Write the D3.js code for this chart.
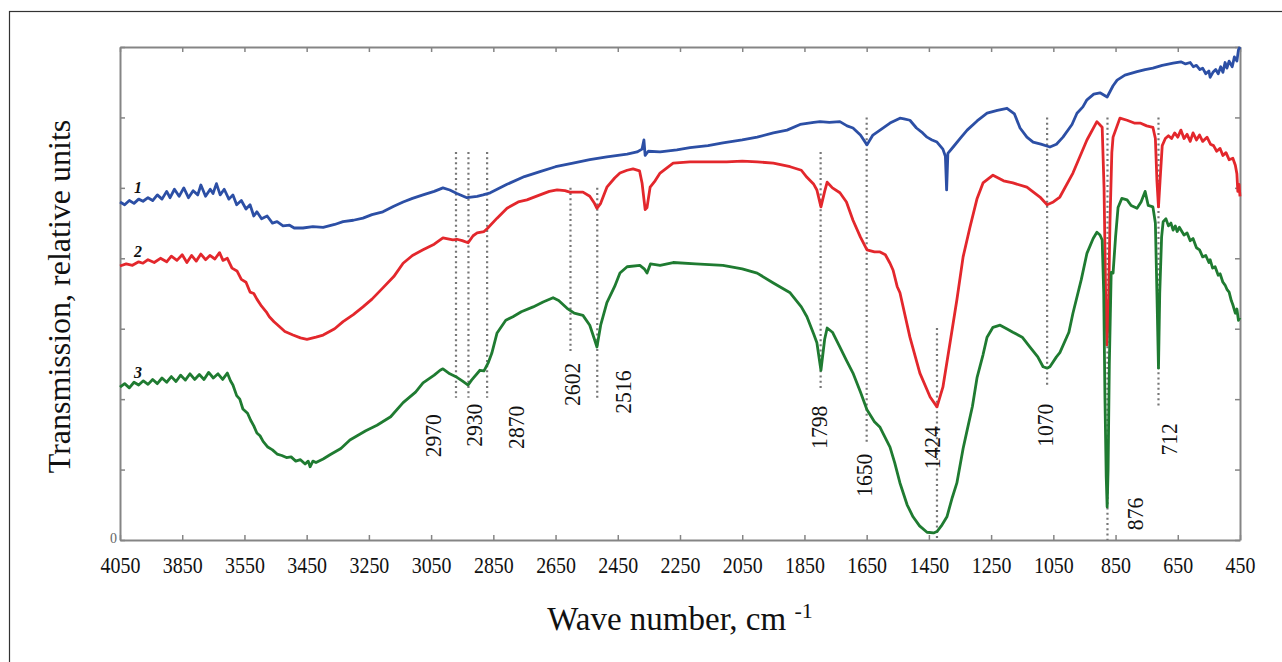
<!DOCTYPE html>
<html>
<head>
<meta charset="utf-8">
<script src="https://cdn.jsdelivr.net/npm/d3@7"></script>
<style>
  body { margin: 0; background: #fff; }
  svg { display: block; }
</style>
</head>
<body>
<script>
// wave number (cm-1) and transmission (relative units)
var spectrum1 = [[4050,4.80],[4035,4.76],[4020,4.82],[4005,4.78],[3990,4.84],[3976,4.81],[3960,4.86],[3945,4.82],[3930,4.90],[3915,4.84],[3900,4.95],[3889,4.86],[3875,4.98],[3860,4.88],[3845,5.00],[3830,4.86],[3815,4.96],[3800,4.90],[3790,5.04],[3775,4.88],[3760,4.98],[3751,4.92],[3740,5.06],[3728,4.90],[3715,4.98],[3700,4.84],[3687,4.90],[3675,4.76],[3660,4.82],[3645,4.70],[3632,4.76],[3620,4.60],[3610,4.66],[3595,4.56],[3577,4.60],[3560,4.50],[3545,4.52],[3526,4.46],[3505,4.47],[3490,4.43],[3462,4.43],[3430,4.45],[3397,4.44],[3360,4.48],[3333,4.52],[3300,4.54],[3269,4.57],[3240,4.62],[3205,4.66],[3170,4.74],[3140,4.80],[3110,4.85],[3076,4.90],[3040,4.95],[3012,5.00],[2990,4.97],[2967,4.92],[2935,4.86],[2902,4.88],[2883,4.90],[2860,4.93],[2806,5.05],[2750,5.16],[2700,5.23],[2650,5.30],[2594,5.35],[2540,5.40],[2485,5.44],[2420,5.48],[2388,5.51],[2372,5.55],[2366,5.68],[2362,5.46],[2352,5.52],[2314,5.51],[2260,5.54],[2218,5.57],[2160,5.60],[2112,5.64],[2050,5.68],[2002,5.72],[1950,5.78],[1906,5.82],[1864,5.90],[1820,5.93],[1800,5.94],[1770,5.93],[1736,5.94],[1713,5.88],[1694,5.85],[1670,5.75],[1649,5.61],[1630,5.75],[1607,5.82],[1575,5.92],[1543,5.99],[1530,5.98],[1511,5.96],[1490,5.85],[1470,5.78],[1456,5.72],[1440,5.68],[1424,5.65],[1405,5.55],[1397,5.45],[1393,4.97],[1389,5.49],[1372,5.58],[1350,5.70],[1327,5.82],[1295,5.95],[1263,6.06],[1230,6.10],[1199,6.13],[1175,6.05],[1157,5.85],[1135,5.72],[1115,5.65],[1090,5.62],[1061,5.58],[1040,5.62],[1019,5.72],[990,5.90],[974,6.06],[955,6.15],[942,6.25],[920,6.33],[900,6.35],[877,6.29],[858,6.45],[845,6.53],[820,6.60],[781,6.65],[755,6.68],[730,6.70],[700,6.74],[665,6.77],[640,6.79],[625,6.76],[610,6.78],[600,6.72],[590,6.74],[579,6.68],[570,6.70],[560,6.62],[550,6.66],[546,6.57],[537,6.64],[528,6.68],[520,6.62],[512,6.72],[505,6.64],[498,6.78],[492,6.70],[485,6.80],[475,6.72],[468,6.86],[460,6.80],[455,6.96],[450,7.0]];

var spectrum2 = [[4050,3.89],[4030,3.92],[4010,3.90],[3990,3.95],[3976,3.93],[3960,3.98],[3940,3.94],[3920,4.00],[3900,3.95],[3885,4.03],[3867,3.97],[3850,4.05],[3835,3.94],[3820,4.04],[3805,3.96],[3790,4.06],[3775,3.98],[3761,4.04],[3745,3.99],[3730,4.08],[3719,3.97],[3705,4.00],[3690,3.86],[3674,3.82],[3660,3.70],[3645,3.66],[3632,3.52],[3620,3.50],[3610,3.42],[3595,3.32],[3580,3.24],[3570,3.17],[3555,3.10],[3545,3.06],[3520,2.96],[3494,2.91],[3470,2.87],[3449,2.85],[3420,2.88],[3397,2.91],[3360,3.00],[3333,3.10],[3300,3.20],[3269,3.31],[3240,3.42],[3205,3.58],[3170,3.74],[3140,3.93],[3110,4.04],[3076,4.12],[3040,4.20],[3012,4.29],[2980,4.26],[2967,4.27],[2950,4.25],[2931,4.22],[2915,4.32],[2902,4.36],[2880,4.38],[2870,4.42],[2838,4.57],[2806,4.71],[2770,4.80],[2742,4.83],[2700,4.90],[2670,4.95],[2645,4.97],[2620,4.96],[2604,4.94],[2562,4.94],[2540,4.88],[2525,4.78],[2517,4.71],[2505,4.78],[2485,5.01],[2460,5.14],[2443,5.21],[2420,5.25],[2401,5.27],[2380,5.24],[2372,5.07],[2362,4.69],[2356,4.72],[2346,5.01],[2330,5.10],[2314,5.21],[2272,5.35],[2218,5.37],[2163,5.37],[2100,5.37],[2050,5.38],[2002,5.37],[1950,5.35],[1896,5.30],[1860,5.25],[1842,5.15],[1820,5.05],[1810,4.97],[1797,4.73],[1785,4.95],[1777,5.08],[1760,5.00],[1736,4.93],[1715,4.80],[1694,4.54],[1670,4.30],[1649,4.12],[1625,4.09],[1607,4.09],[1590,4.05],[1575,3.93],[1565,3.83],[1552,3.60],[1543,3.51],[1511,2.88],[1479,2.37],[1446,2.03],[1424,1.89],[1405,2.17],[1382,2.80],[1360,3.41],[1340,4.02],[1318,4.44],[1295,4.85],[1276,5.07],[1244,5.18],[1210,5.10],[1180,5.07],[1135,5.01],[1093,4.87],[1070,4.76],[1050,4.80],[1029,4.87],[987,5.21],[942,5.68],[910,5.94],[893,5.86],[887,5.00],[882,3.50],[878,2.77],[873,3.20],[868,4.50],[862,5.50],[858,5.72],[836,5.99],[813,5.96],[790,5.92],[771,5.92],[750,5.88],[730,5.86],[722,5.70],[717,5.10],[712,4.73],[707,5.10],[700,5.60],[690,5.70],[680,5.74],[670,5.70],[660,5.78],[650,5.72],[640,5.82],[630,5.70],[620,5.76],[610,5.66],[601,5.78],[590,5.68],[580,5.75],[570,5.66],[556,5.72],[545,5.62],[535,5.60],[525,5.52],[514,5.56],[505,5.46],[495,5.50],[485,5.40],[473,5.42],[465,5.32],[460,5.20],[457,4.95],[453,5.05],[450,4.88]];

var spectrum3 = [[4050,2.17],[4035,2.22],[4020,2.16],[4005,2.24],[3990,2.20],[3975,2.26],[3960,2.21],[3945,2.28],[3930,2.22],[3915,2.30],[3900,2.24],[3885,2.32],[3870,2.25],[3855,2.34],[3840,2.27],[3825,2.36],[3810,2.28],[3795,2.35],[3780,2.28],[3765,2.38],[3750,2.30],[3735,2.36],[3720,2.28],[3705,2.37],[3695,2.26],[3687,2.20],[3675,2.05],[3665,2.00],[3655,1.86],[3640,1.80],[3630,1.70],[3620,1.62],[3610,1.52],[3600,1.48],[3590,1.40],[3575,1.32],[3560,1.28],[3545,1.22],[3530,1.20],[3515,1.17],[3500,1.18],[3485,1.12],[3470,1.14],[3455,1.08],[3445,1.12],[3439,1.04],[3430,1.12],[3420,1.10],[3397,1.15],[3375,1.21],[3340,1.30],[3311,1.42],[3260,1.55],[3224,1.63],[3180,1.75],[3140,1.95],[3100,2.10],[3076,2.23],[3040,2.34],[3021,2.41],[3012,2.43],[2990,2.36],[2967,2.31],[2950,2.26],[2931,2.20],[2920,2.27],[2893,2.41],[2880,2.40],[2867,2.51],[2855,2.65],[2838,2.94],[2810,3.12],[2787,3.17],[2760,3.24],[2722,3.31],[2690,3.38],[2658,3.44],[2640,3.40],[2613,3.29],[2590,3.22],[2562,3.19],[2540,3.05],[2525,2.85],[2517,2.74],[2505,3.05],[2485,3.37],[2460,3.60],[2443,3.79],[2420,3.88],[2379,3.90],[2365,3.85],[2356,3.79],[2345,3.92],[2314,3.90],[2272,3.94],[2200,3.92],[2112,3.90],[2050,3.85],[2002,3.79],[1950,3.65],[1896,3.51],[1860,3.31],[1842,3.17],[1820,2.92],[1810,2.80],[1797,2.41],[1785,2.85],[1777,3.01],[1760,2.95],[1736,2.74],[1715,2.55],[1694,2.37],[1670,2.10],[1649,1.85],[1625,1.68],[1607,1.60],[1590,1.45],[1575,1.32],[1560,1.10],[1543,0.81],[1520,0.50],[1501,0.33],[1480,0.20],[1456,0.11],[1435,0.10],[1424,0.12],[1410,0.20],[1392,0.33],[1375,0.60],[1360,0.81],[1340,1.30],[1327,1.56],[1310,1.90],[1295,2.31],[1276,2.63],[1263,2.88],[1244,3.02],[1221,3.05],[1200,3.00],[1180,2.95],[1150,2.88],[1125,2.74],[1100,2.60],[1083,2.46],[1070,2.44],[1061,2.46],[1040,2.60],[1029,2.66],[1000,2.95],[987,3.22],[960,3.70],[942,4.07],[922,4.28],[910,4.37],[900,4.33],[893,4.26],[888,3.50],[884,2.00],[880,0.90],[877,0.47],[874,1.00],[870,2.50],[864,3.80],[858,3.79],[850,4.30],[842,4.72],[830,4.85],[813,4.83],[800,4.75],[781,4.71],[768,4.80],[755,4.95],[745,4.75],[730,4.73],[722,4.50],[717,3.50],[712,2.44],[708,3.50],[702,4.30],[697,4.52],[688,4.56],[680,4.46],[672,4.50],[665,4.40],[658,4.46],[652,4.38],[645,4.44],[630,4.33],[620,4.36],[610,4.25],[601,4.28],[590,4.15],[580,4.12],[570,4.02],[560,4.04],[550,3.94],[546,3.98],[538,3.86],[530,3.88],[520,3.76],[514,3.78],[505,3.66],[498,3.62],[492,3.56],[485,3.52],[478,3.40],[473,3.34],[465,3.22],[460,3.28],[455,3.12],[450,3.16]];

var seriesNames = ["1", "2", "3"];
var seriesColors = ["#2c4fa5", "#e3272c", "#1f7b31"];

var xTickValues = [4050, 3850, 3650, 3450, 3250, 3050, 2850, 2650, 2450, 2250, 2050, 1850, 1650, 1450, 1250, 1050, 850, 650, 450];
var xTickLabels = ["4050", "3850", "3550", "3450", "3250", "3050", "2850", "2650", "2450", "2250", "2050", "1850", "1650", "1450", "1250", "1050", "850", "650", "450"];
var yTickValues = [0, 1, 2, 3, 4, 5, 6, 7];

// assigned bands: dotted line from top to bottom level, label placed near it
var peakWave  = [2970, 2930, 2870, 2602, 2516, 1798, 1650, 1424, 1070, 876, 712];
var peakTop   = [5.51, 5.51, 5.51, 5.00, 5.00, 5.51, 6.00, 3.01, 6.00, 6.00, 6.00];
var peakBot   = [2.02, 2.02, 2.02, 2.66, 2.02, 2.13, 1.35, 0.00, 2.16, 0.00, 1.87];
var labelWave = [3044, 2915, 2780, 2597, 2436, 1806, 1659, 1440, 1077, 788, 681];
var labelLevel = [1.48, 1.63, 1.60, 2.21, 2.10, 1.60, 0.92, 1.31, 1.63, 0.37, 1.43];

var W = 1282, H = 662;
var margin = {top: 47, right: 42, bottom: 122, left: 120};
var serif = "'Liberation Serif', 'Times New Roman', serif";

var svg = d3.select("body").append("svg")
    .attr("width", W)
    .attr("height", H)
    .style("font-family", serif);

// figure frame
svg.append("rect")
    .attr("x", 9.5).attr("y", 11.5)
    .attr("width", W + 20).attr("height", H + 20)
    .attr("fill", "none")
    .attr("stroke", "#333")
    .attr("stroke-width", 1.2);

var x = d3.scaleLinear().domain([4050, 450]).range([margin.left, W - margin.right]);
var y = d3.scaleLinear().domain([0, 7]).range([H - margin.bottom, margin.top]);

var axisColor = "#858585";

function styleAxis(g) {
  g.attr("font-family", serif);
  g.select(".domain").attr("stroke", axisColor).attr("stroke-width", 2);
  g.selectAll(".tick line").attr("stroke", axisColor).attr("stroke-width", 1.5);
}

// bottom axis with labels
var xAxis = svg.append("g")
    .attr("transform", "translate(0," + y(0) + ")")
    .call(d3.axisBottom(x).tickValues(xTickValues)
      .tickFormat(function(d, i) { return xTickLabels[i]; })
      .tickSizeInner(-5).tickSizeOuter(0).tickPadding(16));
styleAxis(xAxis);
xAxis.selectAll(".tick text")
    .attr("fill", "#111")
    .style("font-size", "24px")
    .attr("transform", "scale(0.83,1)");

// top, left and right axes: inward ticks only
svg.append("g")
    .attr("transform", "translate(0," + y(7) + ")")
    .call(d3.axisTop(x).tickValues(xTickValues).tickFormat("").tickSizeInner(-5).tickSizeOuter(0))
    .call(styleAxis);

var yAxis = svg.append("g")
    .attr("transform", "translate(" + x(4050) + ",0)")
    .call(d3.axisLeft(y).tickValues(yTickValues)
      .tickFormat(function(d) { return d === 0 ? "0" : ""; })
      .tickSizeInner(-5).tickSizeOuter(0).tickPadding(3));
styleAxis(yAxis);
yAxis.selectAll(".tick text").attr("fill", "#666").style("font-size", "14px").attr("dy", "0.2em");

svg.append("g")
    .attr("transform", "translate(" + x(450) + ",0)")
    .call(d3.axisRight(y).tickValues(yTickValues).tickFormat("").tickSizeInner(-5).tickSizeOuter(0))
    .call(styleAxis);

// dotted marker lines
svg.append("g").selectAll("line")
    .data(peakWave)
  .enter().append("line")
    .attr("x1", function(d) { return x(d); })
    .attr("x2", function(d) { return x(d); })
    .attr("y1", function(d, i) { return y(peakTop[i]); })
    .attr("y2", function(d, i) { return y(peakBot[i]); })
    .attr("stroke", "#777")
    .attr("stroke-width", 2.2)
    .attr("stroke-dasharray", "2,3.2");

// spectra
var line = d3.line()
    .x(function(d) { return x(d[0]); })
    .y(function(d) { return y(d[1]); });

var spectra = [spectrum1, spectrum2, spectrum3];

svg.append("g").selectAll("path")
    .data(spectra)
  .enter().append("path")
    .attr("d", line)
    .attr("fill", "none")
    .attr("stroke", function(d, i) { return seriesColors[i]; })
    .attr("stroke-width", 2.8)
    .attr("stroke-linejoin", "round");

// curve numbers
svg.append("g").selectAll("text")
    .data(spectra)
  .enter().append("text")
    .attr("x", function(d) { return x(d[0][0]) + 18; })
    .attr("y", function(d) { return y(d[0][1]) - 9; })
    .attr("text-anchor", "middle")
    .style("font-size", "16px")
    .style("font-style", "italic")
    .style("font-weight", "bold")
    .attr("fill", "#111")
    .text(function(d, i) { return seriesNames[i]; });

// band labels
svg.append("g").selectAll("text")
    .data(peakWave)
  .enter().append("text")
    .attr("transform", function(d, i) {
      return "translate(" + x(labelWave[i]) + "," + y(labelLevel[i]) + ")rotate(-90)scale(0.9,1)";
    })
    .attr("text-anchor", "middle")
    .attr("dy", "0.35em")
    .style("font-size", "24px")
    .attr("fill", "#111")
    .text(function(d) { return d; });

// axis titles
svg.append("text")
    .attr("transform", "translate(70," + ((y(0) + y(7)) / 2 + 3) + ")rotate(-90)")
    .attr("text-anchor", "middle")
    .style("font-size", "32px")
    .attr("fill", "#111")
    .text("Transmission, relative units");

var xTitle = svg.append("text")
    .attr("x", (x(4050) + x(450)) / 2)
    .attr("y", 630)
    .attr("text-anchor", "middle")
    .style("font-size", "33px")
    .attr("fill", "#111");
xTitle.append("tspan").text("Wave number, cm ");
xTitle.append("tspan").attr("dy", -12).style("font-size", "22px").text("-1");
</script>
</body>
</html>
